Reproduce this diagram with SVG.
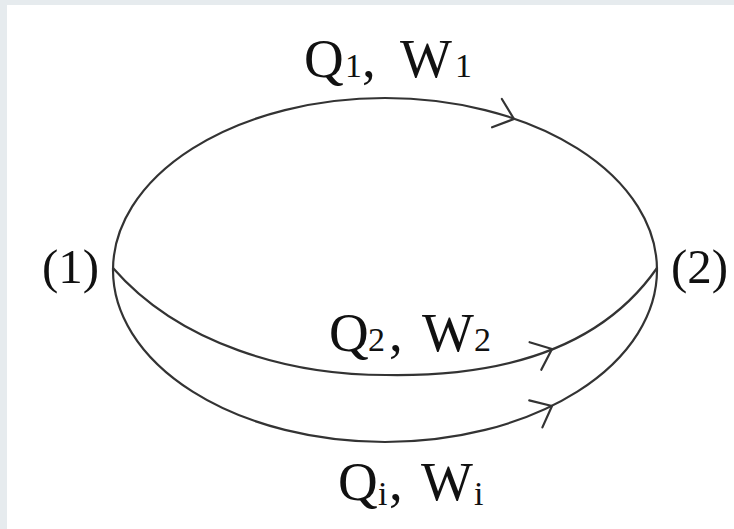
<svg xmlns="http://www.w3.org/2000/svg" xmlns:xlink="http://www.w3.org/1999/xlink" width="734" height="529" viewBox="0 0 734 529">
<style>
.ln{fill:none;stroke:#333;stroke-width:2.2;stroke-linecap:round;stroke-linejoin:round}
.t{font-family:"Liberation Serif","Times New Roman",serif;font-size:55px;fill:#111}
.s{font-size:34px}
.lbl{font-family:"Liberation Serif","Times New Roman",serif;font-size:49px;fill:#111}
</style>
<defs>
<path id="chev" class="ln" d="M-18,-15 L0,0 L-18,15"/>
</defs>
<rect x="0" y="0" width="734" height="529" fill="#e6ebee"/>
<rect x="7" y="5" width="727" height="524" fill="#ffffff"/>
<g id="connectors">
<path class="ln" d="M113,270 A272,172 0 0 1 657,270"/>
<path class="ln" d="M113,270 A272,172 0 0 0 657,270"/>
<path class="ln" d="M113,268 C180,345 290,375 386,375 C500,377 600,350 657,268"/>
<use xlink:href="#chev" transform="translate(514,119) rotate(19)"/>
<use xlink:href="#chev" transform="translate(552,349) rotate(-23)"/>
<use xlink:href="#chev" transform="translate(552,406) rotate(-26)"/>
</g>
<g id="state1"><text class="lbl" x="42" y="283">(1)</text></g>
<g id="state2"><text class="lbl" x="671" y="283">(2)</text></g>
<g id="path1"><text class="t" y="77"><tspan x="304">Q</tspan><tspan class="s" x="345">1</tspan><tspan x="362">,</tspan><tspan x="400">W</tspan><tspan class="s" x="455">1</tspan></text></g>
<g id="path2"><text class="t" y="351"><tspan x="329">Q</tspan><tspan class="s" x="368">2</tspan><tspan x="389">,</tspan><tspan x="422">W</tspan><tspan class="s" x="474">2</tspan></text></g>
<g id="pathi"><text class="t" y="500"><tspan x="338">Q</tspan><tspan class="s" x="378" y="505">i</tspan><tspan x="389" y="500">,</tspan><tspan x="421">W</tspan><tspan class="s" x="474" y="505">i</tspan></text></g>
</svg>
